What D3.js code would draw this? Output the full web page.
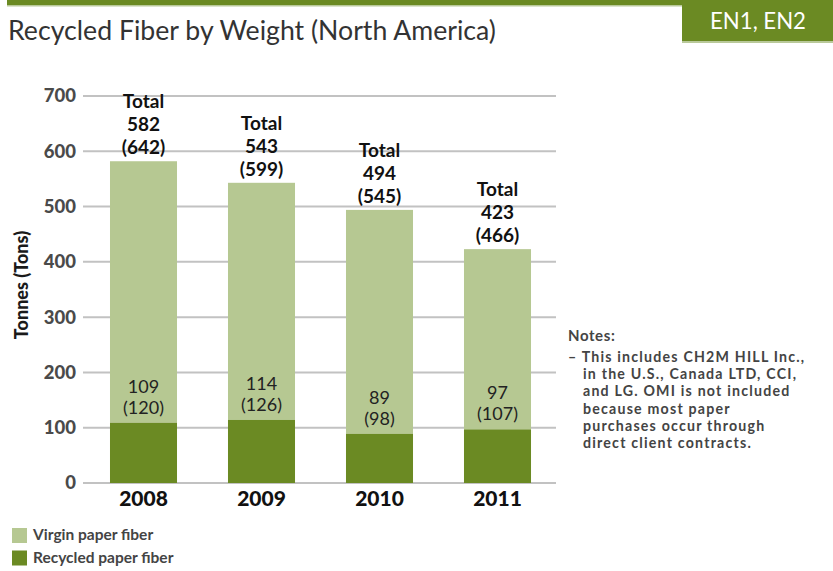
<!DOCTYPE html>
<html>
<head>
<meta charset="utf-8">
<script src="https://cdn.jsdelivr.net/npm/d3@7"></script>
<style>
	body { margin: 0; background: #fff; }
	svg { display: block; font-family: "Lato", "Open Sans", sans-serif; }
</style>
</head>
<body>
<div id="chart"></div>
<script>
// chart values
const years = ["2008", "2009", "2010", "2011"];
const totalTonnes = [582, 543, 494, 423];
const totalTons = [642, 599, 545, 466];
const recycledTonnes = [109, 114, 89, 97];
const recycledTons = [120, 126, 98, 107];
const yTicks = [0, 100, 200, 300, 400, 500, 600, 700];
const noteLines = [
	"– This includes CH2M HILL Inc.,",
	"in the U.S., Canada LTD, CCI,",
	"and LG. OMI is not included",
	"because most paper",
	"purchases occur through",
	"direct client contracts."
];
const legendLabels = ["Virgin paper fiber", "Recycled paper fiber"];

const width = 833, height = 571;
const lightGreen = "#b6c892",
	darkGreen = "#6b8a23";

let svg = d3.select("#chart")
	.append("svg")
	.attr("width", width)
	.attr("height", height);

// header band + tag box
svg.append("rect").attr("x", 7).attr("y", 0).attr("width", width - 7).attr("height", 5).attr("fill", darkGreen);
svg.append("rect").attr("x", 7).attr("y", 5).attr("width", width - 7).attr("height", 1.5).attr("fill", "#b9c99a");
svg.append("rect").attr("x", 682).attr("y", 0).attr("width", 151).attr("height", 41).attr("fill", darkGreen);
svg.append("rect").attr("x", 682).attr("y", 41).attr("width", 151).attr("height", 2).attr("fill", "#b9c99a");
svg.append("text")
	.attr("x", 710).attr("y", 29)
	.attr("fill", "#fff")
	.style("font-size", "24px")
	.attr("textLength", 96)
	.attr("lengthAdjust", "spacingAndGlyphs")
	.text("EN1, EN2");

svg.append("text")
	.attr("x", 8).attr("y", 40)
	.attr("fill", "#333")
	.style("font-size", "26px")
	.attr("textLength", 488)
	.attr("lengthAdjust", "spacingAndGlyphs")
	.text("Recycled Fiber by Weight (North America)");

let xScale = d3.scaleBand()
	.domain(years)
	.range([84.5, 556.5])
	.paddingInner(0.432)
	.paddingOuter(0.216);

let yScale = d3.scaleLinear()
	.domain([0, 700])
	.range([483, 96]);

// gridlines
svg.append("g")
	.selectAll("line")
	.data(yTicks)
	.join("line")
	.attr("x1", 83).attr("x2", 556)
	.attr("y1", d => yScale(d)).attr("y2", d => yScale(d))
	.attr("stroke", "#c2c2c2")
	.attr("stroke-width", 2);

// y axis labels
let yAxis = svg.append("g")
	.attr("transform", "translate(83,0)")
	.call(d3.axisLeft(yScale).tickValues(yTicks).tickSize(0).tickPadding(7));
yAxis.select(".domain").remove();
yAxis.selectAll("text")
	.attr("fill", "#4a4a4a")
	.style("font-size", "18.5px")
	.style("font-weight", "900")
	.style("font-family", "Lato, sans-serif");

svg.append("text")
	.attr("transform", "translate(28,285) rotate(-90)")
	.attr("text-anchor", "middle")
	.attr("fill", "#1a1a1a")
	.style("font-size", "18px")
	.style("font-weight", "900")
	.text("Tonnes (Tons)");

// bars
let bars = svg.append("g")
	.selectAll("g")
	.data(years)
	.join("g");

bars.append("rect")
	.attr("x", d => xScale(d))
	.attr("width", xScale.bandwidth())
	.attr("y", (d, i) => yScale(totalTonnes[i]))
	.attr("height", (d, i) => yScale(recycledTonnes[i]) - yScale(totalTonnes[i]))
	.attr("fill", lightGreen);

bars.append("rect")
	.attr("x", d => xScale(d))
	.attr("width", xScale.bandwidth())
	.attr("y", (d, i) => yScale(recycledTonnes[i]))
	.attr("height", (d, i) => yScale(0) - yScale(recycledTonnes[i]))
	.attr("fill", darkGreen);

// value labels
bars.each(function (d, i) {
	let cx = xScale(d) + xScale.bandwidth() / 2,
		top = yScale(totalTonnes[i]) - 7;
	let lines = ["Total", totalTonnes[i], "(" + totalTons[i] + ")"];
	d3.select(this).selectAll(".tot")
		.data(lines)
		.join("text")
		.attr("class", "tot")
		.attr("x", cx)
		.attr("y", (t, j) => top - (2 - j) * 23)
		.attr("text-anchor", "middle")
		.attr("fill", "#111")
		.style("font-size", "19px")
		.style("font-weight", "bold")
		.text(t => t);

	let rtop = yScale(recycledTonnes[i]) - 9;
	d3.select(this).selectAll(".rec")
		.data([recycledTonnes[i], "(" + recycledTons[i] + ")"])
		.join("text")
		.attr("class", "rec")
		.attr("x", cx)
		.attr("y", (t, j) => rtop - (1 - j) * 21)
		.attr("text-anchor", "middle")
		.attr("fill", "#222")
		.style("font-size", "18px")
		.text(t => t);
});

// x axis labels
svg.append("g")
	.selectAll("text")
	.data(years)
	.join("text")
	.attr("x", d => xScale(d) + xScale.bandwidth() / 2)
	.attr("y", 506)
	.attr("text-anchor", "middle")
	.attr("fill", "#111")
	.style("font-size", "21px")
	.style("font-weight", "900")
	.text(d => d);

// notes
svg.append("text")
	.attr("x", 568).attr("y", 341)
	.attr("fill", "#444")
	.style("font-size", "15px")
	.style("font-weight", "bold")
	.style("letter-spacing", "0.6px")
	.text("Notes:");

svg.append("g")
	.selectAll("text")
	.data(noteLines)
	.join("text")
	.attr("x", (d, i) => i === 0 ? 568 : 583)
	.attr("y", (d, i) => 362 + i * 17.2)
	.attr("fill", "#444")
	.style("font-size", "14.2px")
	.style("font-weight", "bold")
	.style("letter-spacing", "1.2px")
	.text(d => d);

// legend
let legend = svg.append("g")
	.selectAll("g")
	.data(legendLabels)
	.join("g")
	.attr("transform", (d, i) => "translate(12," + (528 + i * 22.5) + ")");

legend.append("rect")
	.attr("width", 15).attr("height", 15)
	.attr("fill", (d, i) => i === 0 ? lightGreen : darkGreen);

legend.append("text")
	.attr("x", 21).attr("y", 12)
	.attr("fill", "#444")
	.style("font-size", "15.5px")
	.style("font-weight", "bold")
	.text(d => d);
</script>
</body>
</html>
